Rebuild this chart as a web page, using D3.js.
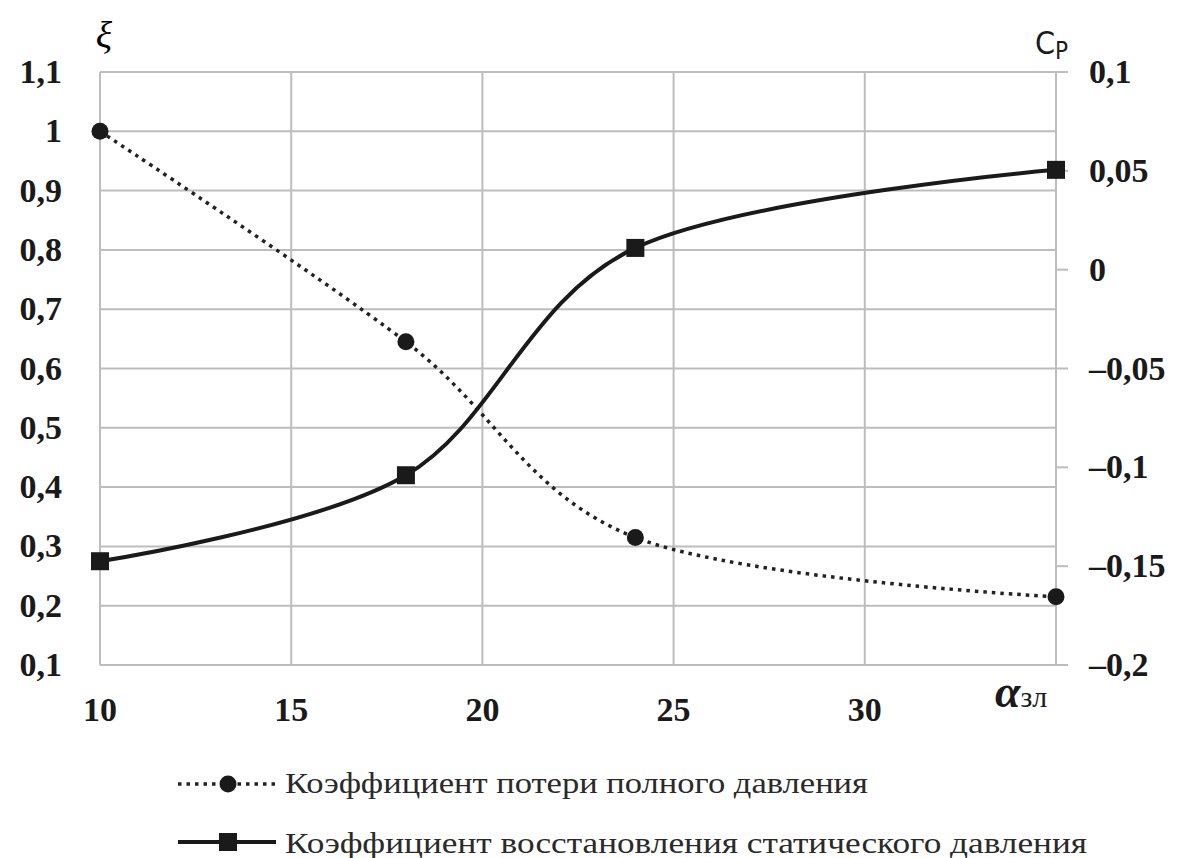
<!DOCTYPE html>
<html><head><meta charset="utf-8">
<script src="https://cdn.jsdelivr.net/npm/d3@7"></script>
<style>body{margin:0;background:#fff}svg{display:block}
.serif{font-family:'Liberation Serif','Times New Roman','DejaVu Serif',serif}</style>
</head><body>
<svg id="c" width="1179" height="858"></svg>
<script>
const xValues = [10, 18, 24, 35];
const xiValues = [1.0, 0.645, 0.315, 0.215];
const cpValues = [-0.1475, -0.104, 0.011, 0.0505];
const xTicks = [10, 15, 20, 25, 30];
const leftTicks = [0.1,0.2,0.3,0.4,0.5,0.6,0.7,0.8,0.9,1.0,1.1];
const rightTicks = [-0.2,-0.15,-0.1,-0.05,0,0.05,0.1];
const legendLabels = ["Коэффициент потери полного давления","Коэффициент восстановления статического давления"];

const svg = d3.select("#c");
const L=100, R=1056, T=72, B=665;
const x = d3.scaleLinear().domain([10,35]).range([L,R]);
const yL = d3.scaleLinear().domain([0.1,1.1]).range([B,T]);
const yR = d3.scaleLinear().domain([-0.2,0.1]).range([B,T]);
const fmt = v => { let s = (Math.round(v*100)/100).toString().replace(".", ","); if (v<0) s = s.replace("-", "–"); return s; };
const grid="#bdbdbd";
const g = svg.append("g");
g.selectAll(".hg").data(leftTicks).enter().append("line")
 .attr("x1",L).attr("x2",R).attr("y1",d=>yL(d)).attr("y2",d=>yL(d)).attr("stroke",grid).attr("stroke-width",2);
g.selectAll(".vg").data([10,15,20,25,30,35]).enter().append("line")
 .attr("x1",d=>x(d)).attr("x2",d=>x(d)).attr("y1",T).attr("y2",B).attr("stroke",grid).attr("stroke-width",2);
g.selectAll(".rt").data(rightTicks).enter().append("line")
 .attr("x1",R).attr("x2",R+12).attr("y1",d=>yR(d)).attr("y2",d=>yR(d)).attr("stroke",grid).attr("stroke-width",2);
g.selectAll(".ll").data(leftTicks).enter().append("text").attr("class","serif")
 .attr("x",62).attr("y",d=>yL(d)+11).attr("text-anchor","end").attr("font-weight","bold").attr("font-size",34).attr("fill","#1a1a1a").text(fmt);
g.selectAll(".rl").data(rightTicks).enter().append("text").attr("class","serif")
 .attr("x",1089).attr("y",d=>yR(d)+11).attr("font-weight","bold").attr("font-size",34).attr("fill","#1a1a1a").text(fmt);
g.selectAll(".bl").data(xTicks).enter().append("text").attr("class","serif")
 .attr("x",d=>x(d)).attr("y",721).attr("text-anchor","middle").attr("font-weight","bold").attr("font-size",34).attr("fill","#1a1a1a").text(d=>d);
g.append("text").attr("class","serif").attr("x",104).attr("y",48).attr("text-anchor","middle").attr("font-style","italic").attr("font-size",38).text("ξ");
const cp = g.append("text").attr("x",1035).attr("y",54).attr("font-family","'DejaVu Sans Condensed','DejaVu Sans',sans-serif").attr("font-size",32).attr("fill","#1a1a1a");
cp.append("tspan").text("C");
cp.append("tspan").attr("dy",5).attr("font-size",24).text("P");
const al = g.append("text").attr("class","serif").attr("x",995).attr("y",707).attr("fill","#1a1a1a");
al.append("tspan").attr("font-style","italic").attr("font-weight","bold").attr("font-size",46).text("α");
al.append("tspan").attr("font-size",30).text("зл");

const curve = d3.curveCardinal.tension(0);
const xiLine = d3.line().x((d,i)=>x(xValues[i])).y(d=>yL(d)).curve(curve);
const cpLine = d3.line().x((d,i)=>x(xValues[i])).y(d=>yR(d)).curve(curve);
g.append("path").attr("d",xiLine(xiValues)).attr("fill","none").attr("stroke","#222").attr("stroke-width",3.5).attr("stroke-dasharray","3.5,5");
g.append("path").attr("d",cpLine(cpValues)).attr("fill","none").attr("stroke","#1a1a1a").attr("stroke-width",4);
g.selectAll(".cm").data(xiValues).enter().append("circle")
 .attr("cx",(d,i)=>x(xValues[i])).attr("cy",d=>yL(d)).attr("r",8.5).attr("fill","#1a1a1a");
g.selectAll(".sm").data(cpValues).enter().append("rect")
 .attr("x",(d,i)=>x(xValues[i])-9).attr("y",d=>yR(d)-9).attr("width",18).attr("height",18).attr("fill","#1a1a1a");

const ly1=784, ly2=842;
g.append("line").attr("x1",178).attr("x2",276).attr("y1",ly1).attr("y2",ly1).attr("stroke","#222").attr("stroke-width",3.5).attr("stroke-dasharray","3.5,5");
g.append("circle").attr("cx",228).attr("cy",ly1).attr("r",8.5).attr("fill","#1a1a1a");
g.append("line").attr("x1",178).attr("x2",276).attr("y1",ly2).attr("y2",ly2).attr("stroke","#1a1a1a").attr("stroke-width",4);
g.append("rect").attr("x",219).attr("y",ly2-9).attr("width",18).attr("height",18).attr("fill","#1a1a1a");
const lens=[583,802];
g.selectAll(".lt").data(legendLabels).enter().append("text").attr("class","serif")
 .attr("x",285).attr("y",(d,i)=>(i?853:793)).attr("font-size",30).attr("fill","#2a2a2a")
 .attr("textLength",(d,i)=>lens[i]).attr("lengthAdjust","spacingAndGlyphs").text(d=>d);
</script>
</body></html>
